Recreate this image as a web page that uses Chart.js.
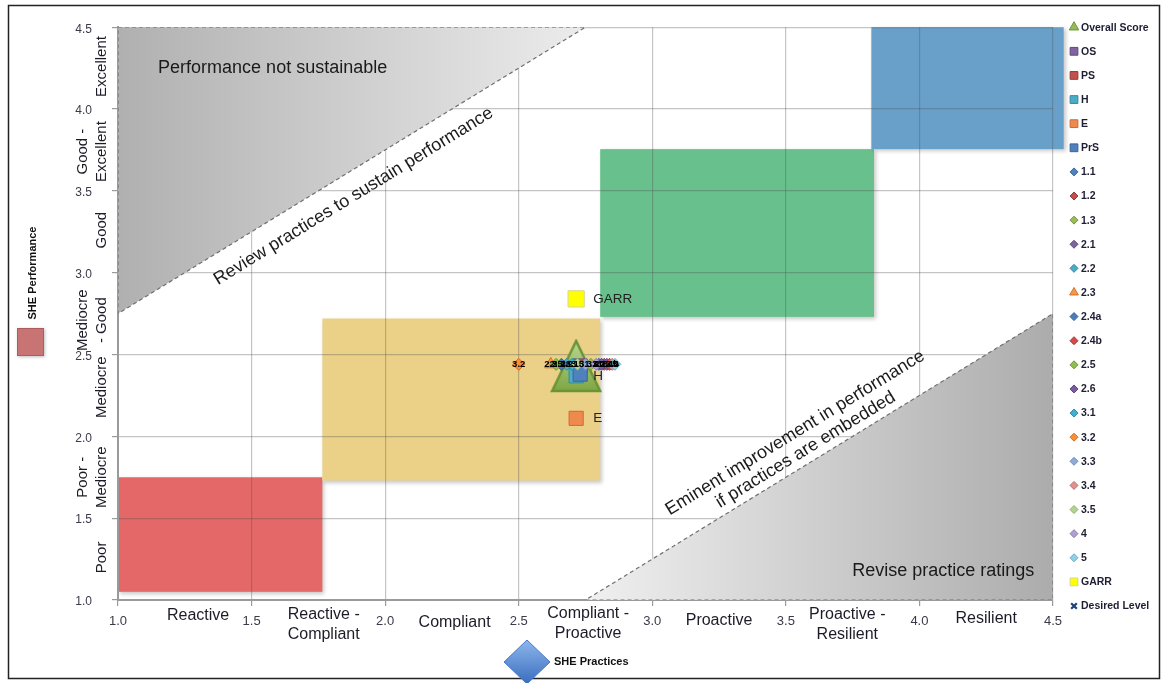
<!DOCTYPE html>
<html>
<head>
<meta charset="utf-8">
<title>SHE Performance vs SHE Practices</title>
<script src="https://cdn.jsdelivr.net/npm/chart.js@4/dist/chart.umd.min.js"></script>
<style>
  html, body { margin: 0; padding: 0; background: #ffffff; }
  #box { position: relative; width: 1168px; height: 683px; }
  canvas { display: block; }
</style>
</head>
<body>
<div id="box"><canvas id="chart" width="1168" height="683"></canvas></div>
<script>
const FONT = "'Liberation Sans', Arial, Helvetica, sans-serif";

// Axis ticks (both axes use the 1.0 - 4.5 rating scale)
const practiceTicks = [1.0, 1.5, 2.0, 2.5, 3.0, 3.5, 4.0, 4.5];
const performanceTicks = [1.0, 1.5, 2.0, 2.5, 3.0, 3.5, 4.0, 4.5];

// Descriptive bands along each axis and where they sit on the scale
const practiceBands = ['Reactive', ['Reactive -', 'Compliant'], 'Compliant', ['Compliant -', 'Proactive'], 'Proactive', ['Proactive -', 'Resilient'], 'Resilient'];
const practiceBandAt = [1.30, 1.77, 2.26, 2.76, 3.25, 3.73, 4.25];
const performanceBands = ['Excellent', ['Good -', 'Excellent'], 'Good', ['Mediocre', '- Good'], 'Mediocre', ['Poor -', 'Mediocre'], 'Poor'];
const performanceBandAt = [4.26, 3.74, 3.26, 2.71, 2.30, 1.75, 1.26];

// Rating zones: [practice from, practice to, performance from, performance to]
const reactiveZone  = [1.00, 1.765, 1.05, 1.75];
const compliantZone = [1.765, 2.805, 1.73, 2.72];
const proactiveZone = [2.805, 3.83, 2.73, 3.755];
const resilientZone = [3.82, 4.54, 3.755, 4.50];

// Off-diagonal triangles (corner points)
const unsustainableX = [1.00, 2.75, 1.00];
const unsustainableY = [4.50, 4.50, 2.75];
const reviseRatingsX = [2.75, 4.50, 4.50];
const reviseRatingsY = [1.00, 1.00, 2.75];

// Scored series: practice score (x) and performance score (y)
const seriesNames = ['Overall Score', 'OS', 'PS', 'H', 'E', 'PrS',
  '1.1', '1.2', '1.3', '2.1', '2.2', '2.3', '2.4a', '2.4b', '2.5', '2.6',
  '3.1', '3.2', '3.3', '3.4', '3.5', '4', '5', 'GARR', 'Desired Level'];
const practiceScore = [2.715, 2.73, 2.72, 2.715, 2.715, 2.73,
  2.80, 2.82, 2.77, 2.83, 2.68, 2.62, 2.66, 2.84, 2.64, 2.81,
  2.70, 2.50, 2.75, 2.85, 2.72, 2.79, 2.86, 2.715, null];
const performanceScore = [2.43, 2.43, 2.42, 2.37, 2.11, 2.38,
  2.44, 2.44, 2.44, 2.44, 2.44, 2.44, 2.44, 2.44, 2.44, 2.44,
  2.44, 2.44, 2.44, 2.44, 2.44, 2.44, 2.44, 2.84, null];

// Marker look per series (same order as seriesNames)
const markerStyle = [
  {shape: 'overall',  fill: '#93bb5c', edge: '#6b9438'},
  {shape: 'rect',     fill: '#8064a2', edge: '#5f4a7e'},
  {shape: 'rect',     fill: '#c0504d', edge: '#973b39'},
  {shape: 'rect',     fill: '#4bacc6', edge: '#338aa2'},
  {shape: 'rect',     fill: '#ef8a4e', edge: '#cf6a32'},
  {shape: 'rect',     fill: '#4f81bd', edge: '#3a6496'},
  {shape: 'rectRot',  fill: '#4f81bd', edge: '#3a6496'},
  {shape: 'rectRot',  fill: '#c0504d', edge: '#973b39'},
  {shape: 'rectRot',  fill: '#9bbb59', edge: '#779542'},
  {shape: 'rectRot',  fill: '#8064a2', edge: '#5f4a7e'},
  {shape: 'rectRot',  fill: '#4bacc6', edge: '#338aa2'},
  {shape: 'triangle', fill: '#f79646', edge: '#d4732a'},
  {shape: 'rectRot',  fill: '#4a7ebb', edge: '#355f92'},
  {shape: 'rectRot',  fill: '#cf4c4a', edge: '#a53836'},
  {shape: 'rectRot',  fill: '#8fbf4f', edge: '#6e983a'},
  {shape: 'rectRot',  fill: '#7b5ba0', edge: '#5c437c'},
  {shape: 'rectRot',  fill: '#3fb0d2', edge: '#2d8aa6'},
  {shape: 'rectRot',  fill: '#f88f3b', edge: '#d06e22'},
  {shape: 'rectRot',  fill: '#8fabd9', edge: '#6f8bb8'},
  {shape: 'rectRot',  fill: '#df8f8e', edge: '#bb6e6d'},
  {shape: 'rectRot',  fill: '#b3d393', edge: '#8fb06e'},
  {shape: 'rectRot',  fill: '#b09fd0', edge: '#8d7cae'},
  {shape: 'rectRot',  fill: '#8fd0e6', edge: '#6cadc4'},
  {shape: 'rect',     fill: '#ffff00', edge: '#d6d690'},
  {shape: 'crossRot', fill: '#1f3f77', edge: '#1f3f77'}
];

// Big shaded triangle used for the overall score
function overallMarker() {
  const c = document.createElement('canvas');
  c.width = 52; c.height = 54;
  const g = c.getContext('2d');
  g.beginPath();
  g.moveTo(26, 2); g.lineTo(50, 52); g.lineTo(2, 52); g.closePath();
  const grad = g.createLinearGradient(0, 2, 0, 52);
  grad.addColorStop(0, '#b9d890');
  grad.addColorStop(1, '#7ea644');
  g.fillStyle = grad; g.fill();
  g.lineWidth = 2.5; g.strokeStyle = '#6b9438'; g.stroke();
  return c;
}

function polygon(xs, ys) {
  const pts = xs.map((x, i) => ({x, y: ys[i]}));
  pts.push({x: xs[0], y: ys[0]});
  return pts;
}

function sweep(chart, from, to, c0, c1) {
  const sx = chart.scales && chart.scales.x;
  if (!sx || !chart.chartArea) return c0;
  const g = chart.ctx.createLinearGradient(sx.getPixelForValue(from), 0, sx.getPixelForValue(to), 0);
  g.addColorStop(0, c0);
  g.addColorStop(1, c1);
  return g;
}

const triangleSets = [
  {
    label: 'Performance not sustainable',
    data: polygon(unsustainableX, unsustainableY),
    showLine: true, fill: 'shape', pointRadius: 0, pointHoverRadius: 0,
    borderColor: '#707070', borderWidth: 1.2, borderDash: [4, 3],
    backgroundColor: c => sweep(c.chart, 1.0, 2.75, '#b0b0b0', '#ececec'),
    order: 100
  },
  {
    label: 'Revise practice ratings',
    data: polygon(reviseRatingsX, reviseRatingsY),
    showLine: true, fill: 'shape', pointRadius: 0, pointHoverRadius: 0,
    borderColor: '#707070', borderWidth: 1.2, borderDash: [4, 3],
    backgroundColor: c => sweep(c.chart, 2.75, 4.5, '#f0f0f0', '#acacac'),
    order: 100
  }
];

const scoreSets = seriesNames.map((name, i) => {
  const st = markerStyle[i];
  const pts = practiceScore[i] == null ? [] : [{x: practiceScore[i], y: performanceScore[i]}];
  let style = st.shape, radius = 6;
  if (st.shape === 'overall') { style = overallMarker(); radius = 26; }
  else if (st.shape === 'rect') { radius = name === 'GARR' ? 11.5 : 10; }
  else if (st.shape === 'triangle') { radius = 7; }
  return {
    label: name,
    data: pts,
    order: 60 - i,
    pointStyle: style,
    pointRadius: radius,
    pointHoverRadius: radius,
    pointBackgroundColor: st.fill,
    pointBorderColor: st.edge,
    pointBorderWidth: 1,
    backgroundColor: st.fill,
    borderColor: st.edge
  };
});

// Rating zones go underneath the grid
const zonePlugin = {
  id: 'zones',
  beforeDraw(chart) {
    const {ctx, scales: {x, y}} = chart;
    const zones = [
      [reactiveZone, '#e46868'],
      [compliantZone, '#ebd188'],
      [proactiveZone, '#68c18d'],
      [resilientZone, '#68a0c9']
    ];
    zones.forEach(([z, color]) => {
      const l = x.getPixelForValue(z[0]), r = x.getPixelForValue(z[1]);
      const t = y.getPixelForValue(z[3]), b = y.getPixelForValue(z[2]);
      ctx.save();
      ctx.shadowColor = 'rgba(0,0,0,0.22)';
      ctx.shadowBlur = 4; ctx.shadowOffsetX = 2; ctx.shadowOffsetY = 2;
      ctx.fillStyle = color;
      ctx.fillRect(l, t, r - l, b - t);
      ctx.restore();
    });
  }
};

// Point labels and region captions
const labelPlugin = {
  id: 'labels',
  afterDatasetsDraw(chart) {
    const {ctx, scales: {x, y}} = chart;
    ctx.save();
    ctx.fillStyle = '#1a1a1a';
    ctx.font = '18px ' + FONT;
    ctx.textBaseline = 'middle';
    ctx.textAlign = 'left';
    ctx.fillText('Performance not sustainable', x.getPixelForValue(1.15), y.getPixelForValue(4.25));
    ctx.textAlign = 'right';
    ctx.fillText('Revise practice ratings', x.getPixelForValue(4.43), y.getPixelForValue(1.18));

    // caption along the upper diagonal
    let ax = x.getPixelForValue(unsustainableX[2]), ay = y.getPixelForValue(unsustainableY[2]);
    let bx = x.getPixelForValue(unsustainableX[1]), by = y.getPixelForValue(unsustainableY[1]);
    ctx.save();
    ctx.translate((ax + bx) / 2, (ay + by) / 2);
    ctx.rotate(Math.atan2(by - ay, bx - ax));
    ctx.textAlign = 'center';
    ctx.fillText('Review practices to sustain performance', -12, 23);
    ctx.restore();

    // caption along the lower diagonal
    ax = x.getPixelForValue(reviseRatingsX[0]); ay = y.getPixelForValue(reviseRatingsY[0]);
    bx = x.getPixelForValue(reviseRatingsX[2]); by = y.getPixelForValue(reviseRatingsY[2]);
    ctx.save();
    ctx.translate((ax + bx) / 2, (ay + by) / 2);
    ctx.rotate(Math.atan2(by - ay, bx - ax));
    ctx.textAlign = 'center';
    ctx.fillText('Eminent improvement in performance', -8, -33);
    ctx.fillText('if practices are embedded', -8, -13);
    ctx.restore();

    // series labels
    const offset = triangleSets.length;
    seriesNames.forEach((name, i) => {
      const el = chart.getDatasetMeta(i + offset).data[0];
      if (!el) return;
      if (name === 'H' || name === 'E' || name === 'GARR') {
        ctx.font = '13.5px ' + FONT;
        ctx.fillStyle = '#222';
        ctx.textAlign = 'left';
        ctx.fillText(name, el.x + 17, el.y);
      } else if (i >= 6 && i <= 22) {
        ctx.font = 'bold 9.5px ' + FONT;
        ctx.fillStyle = '#000';
        ctx.textAlign = 'center';
        ctx.fillText(name, el.x, el.y);
      }
    });
    ctx.restore();
  }
};

// Axis band names, legend, axis keys and frame
const decorPlugin = {
  id: 'decor',
  afterDraw(chart) {
    const {ctx, chartArea: area, scales: {x, y}} = chart;
    ctx.save();
    ctx.fillStyle = '#1c1c28';
    ctx.textBaseline = 'middle';

    // practice bands under the x axis
    const drops = [16, 15, 23, 14, 21, 15, 19];
    ctx.font = '16px ' + FONT;
    ctx.textAlign = 'center';
    practiceBands.forEach((lbl, i) => {
      const lines = Array.isArray(lbl) ? lbl : [lbl];
      const px = x.getPixelForValue(practiceBandAt[i]);
      lines.forEach((ln, k) => ctx.fillText(ln, px, area.bottom + drops[i] + k * 20));
    });

    // performance bands beside the y axis
    ctx.font = '15px ' + FONT;
    performanceBands.forEach((lbl, i) => {
      const lines = Array.isArray(lbl) ? lbl : [lbl];
      const py = y.getPixelForValue(performanceBandAt[i]);
      lines.forEach((ln, k) => {
        const px = area.left - (lines.length === 2 && k === 0 ? 35 : 16);
        ctx.save();
        ctx.translate(px, py);
        ctx.rotate(-Math.PI / 2);
        ctx.fillText(ln, 0, 0);
        ctx.restore();
      });
    });

    // legend
    const lx = 1074, tx = 1081;
    const step = (area.bottom + 6 - area.top) / (seriesNames.length - 1);
    const draw = Chart.helpers && Chart.helpers.drawPoint;
    ctx.font = 'bold 10.5px ' + FONT;
    ctx.textAlign = 'left';
    seriesNames.forEach((name, i) => {
      const st = markerStyle[i];
      const ly = area.top + i * step;
      let shape = st.shape, r = 4;
      if (shape === 'overall') { shape = 'triangle'; r = 5.5; }
      else if (shape === 'rect') r = 5.5;
      else if (shape === 'triangle') r = 5;
      ctx.save();
      ctx.fillStyle = st.fill;
      ctx.strokeStyle = st.edge;
      ctx.lineWidth = shape === 'crossRot' ? 2.2 : 1;
      if (draw) draw(ctx, {pointStyle: shape, radius: r, rotation: 0, borderWidth: ctx.lineWidth}, lx, ly);
      else ctx.fillRect(lx - 4, ly - 4, 8, 8);
      ctx.restore();
      ctx.fillStyle = '#1d1d33';
      ctx.fillText(name, tx, ly + 0.5);
    });

    // frame
    ctx.strokeStyle = '#222';
    ctx.lineWidth = 1.5;
    ctx.strokeRect(8.5, 5.5, 1151, 673);

    // y axis key
    ctx.save();
    ctx.shadowColor = 'rgba(0,0,0,0.25)'; ctx.shadowBlur = 3; ctx.shadowOffsetX = 1; ctx.shadowOffsetY = 1;
    ctx.fillStyle = '#c87474';
    ctx.fillRect(17, 328, 27, 28);
    ctx.restore();
    ctx.strokeStyle = '#b05c5c'; ctx.lineWidth = 1;
    ctx.strokeRect(17.5, 328.5, 26, 27);
    ctx.fillStyle = '#111';
    ctx.font = 'bold 11px ' + FONT;
    ctx.save();
    ctx.translate(33, 273);
    ctx.rotate(-Math.PI / 2);
    ctx.textAlign = 'center';
    ctx.fillText('SHE Performance', 0, 0);
    ctx.restore();

    // x axis key
    ctx.save();
    const dg = ctx.createLinearGradient(0, 640, 0, 684);
    dg.addColorStop(0, '#8db7ec');
    dg.addColorStop(1, '#3a6dbf');
    ctx.beginPath();
    ctx.moveTo(527, 640); ctx.lineTo(550, 662); ctx.lineTo(527, 684); ctx.lineTo(504, 662); ctx.closePath();
    ctx.fillStyle = dg; ctx.fill();
    ctx.strokeStyle = '#4a78c4'; ctx.lineWidth = 1; ctx.stroke();
    ctx.restore();
    ctx.textAlign = 'left';
    ctx.fillStyle = '#111';
    ctx.fillText('SHE Practices', 554, 662);
    ctx.restore();
  }
};

const gridColor = 'rgba(80,80,80,0.33)';

new Chart(document.getElementById('chart'), {
  type: 'scatter',
  data: { datasets: [...triangleSets, ...scoreSets] },
  options: {
    responsive: false,
    animation: false,
    devicePixelRatio: 1,
    events: [],
    layout: { padding: { left: 48, right: 115, top: 22, bottom: 43 } },
    plugins: { legend: { display: false }, tooltip: { enabled: false } },
    scales: {
      x: {
        type: 'linear', min: 1, max: 4.5,
        afterBuildTicks: s => { s.ticks = practiceTicks.map(v => ({value: v})); },
        afterFit: s => { s.height = 40; },
        ticks: { callback: v => Number(v).toFixed(1), font: { family: FONT, size: 13 }, color: '#3a3a4a', padding: 8, maxRotation: 0, autoSkip: false },
        grid: { color: gridColor, lineWidth: 1.2, tickColor: '#9a9a9a', tickLength: 6 },
        border: { color: '#9a9a9a', width: 2 }
      },
      y: {
        type: 'linear', min: 1, max: 4.5,
        afterBuildTicks: s => { s.ticks = performanceTicks.map(v => ({value: v})); },
        afterFit: s => { s.width = 70; },
        ticks: { callback: v => Number(v).toFixed(1), font: { family: FONT, size: 12 }, color: '#3a3a4a', padding: 20, autoSkip: false, labelOffset: 2 },
        grid: { color: gridColor, lineWidth: 1.2, tickColor: '#9a9a9a', tickLength: 6 },
        border: { color: '#9a9a9a', width: 2 }
      }
    }
  },
  plugins: [zonePlugin, labelPlugin, decorPlugin]
});
</script>
</body>
</html>
